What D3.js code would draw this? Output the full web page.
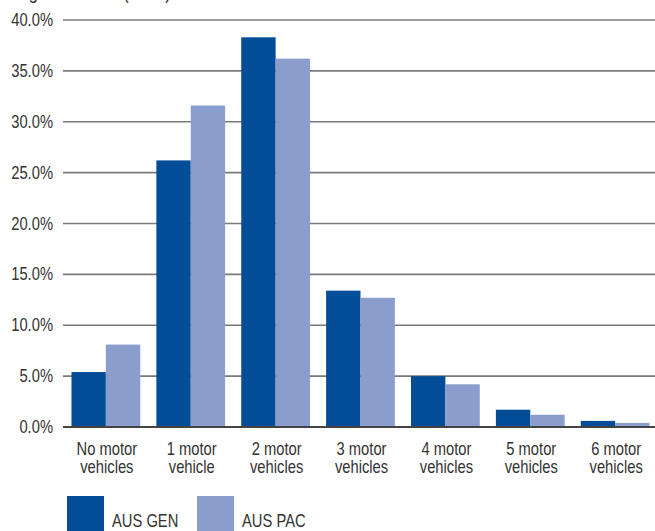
<!DOCTYPE html>
<html>
<head>
<meta charset="utf-8">
<script src="https://cdn.jsdelivr.net/npm/d3@7"></script>
<style>
  html, body { margin: 0; padding: 0; background: #fff; }
  svg text { font-family: "Liberation Sans Narrow", "Arial Narrow", "Liberation Sans", sans-serif; fill: #333; font-size: 18px; }
</style>
</head>
<body>
<div id="viz"></div>
<script>
// Share of households by number of motor vehicles
const CATEGORIES = [
  ["No motor", "vehicles"],
  ["1 motor", "vehicle"],
  ["2 motor", "vehicles"],
  ["3 motor", "vehicles"],
  ["4 motor", "vehicles"],
  ["5 motor", "vehicles"],
  ["6 motor", "vehicles"]
];
const SERIES = ["AUS GEN", "AUS PAC"];
const AUS_GEN = [5.4, 26.2, 38.3, 13.4, 5.0, 1.7, 0.6];
const AUS_PAC = [8.1, 31.6, 36.2, 12.7, 4.2, 1.2, 0.4];
const Y_TICKS = [0, 5, 10, 15, 20, 25, 30, 35, 40];

const COLORS = ["#034d98", "#8a9dcd"];
const W = 655, H = 531;
const margin = { top: 20, right: -3, bottom: 104, left: 63 };
const NARROW = 0.82; // no condensed face installed, squeeze the regular one

const svg = d3.select("#viz").append("svg")
  .attr("width", W)
  .attr("height", H);

// places a text and squeezes it horizontally
function narrowText(sel, px, py) {
  return sel.attr("transform", `translate(${px},${py}) scale(${NARROW},1)`);
}

// cropped title, only descenders are visible in the original
narrowText(svg.append("text"), 15, -1)
  .style("font-size", "20px")
  .text("Figure 9: Cars  (2016)");

const keys = CATEGORIES.map(d => d.join(" "));

const x = d3.scaleBand()
  .domain(keys)
  .range([margin.left, W - margin.right])
  .paddingInner(0.19)
  .paddingOuter(0.1);

const xInner = d3.scaleBand()
  .domain(SERIES)
  .range([0, x.bandwidth()]);

const y = d3.scaleLinear()
  .domain([0, 40])
  .range([H - margin.bottom, margin.top]);

// grid
svg.append("g")
  .selectAll("line")
  .data(Y_TICKS.filter(d => d > 0))
  .join("line")
  .attr("x1", margin.left)
  .attr("x2", W)
  .attr("y1", d => y(d))
  .attr("y2", d => y(d))
  .attr("stroke", "#7a7a7a")
  .attr("stroke-width", 1.6);

// y labels
svg.append("g")
  .selectAll("text")
  .data(Y_TICKS)
  .join("text")
  .attr("text-anchor", "end")
  .attr("transform", d => `translate(53,${y(d) + 6}) scale(${NARROW},1)`)
  .text(d => d.toFixed(1) + "%");

// bars
const rows = keys.map((k, i) => ({ key: k, values: [AUS_GEN[i], AUS_PAC[i]] }));

const groups = svg.append("g")
  .selectAll("g")
  .data(rows)
  .join("g")
  .attr("transform", d => `translate(${x(d.key)},0)`);

groups.selectAll("rect")
  .data(d => d.values.map((v, j) => ({ series: SERIES[j], value: v, j })))
  .join("rect")
  .attr("x", d => xInner(d.series))
  .attr("width", xInner.bandwidth())
  .attr("y", d => y(d.value))
  .attr("height", d => y(0) - y(d.value))
  .attr("fill", d => COLORS[d.j]);

// zero line over the bars
svg.append("line")
  .attr("x1", margin.left)
  .attr("x2", W)
  .attr("y1", y(0))
  .attr("y2", y(0))
  .attr("stroke", "#444")
  .attr("stroke-width", 2);

// category labels
const labels = svg.append("g")
  .selectAll("text")
  .data(CATEGORIES)
  .join("text")
  .attr("text-anchor", "middle")
  .attr("transform", (d, i) => `translate(${x(keys[i]) + x.bandwidth() / 2 + 1},455) scale(${NARROW},1)`);

labels.selectAll("tspan")
  .data(d => d)
  .join("tspan")
  .attr("x", 0)
  .attr("dy", (d, i) => i === 0 ? 0 : 18)
  .text(d => d);

// legend
const legendX = [67, 197];
const legend = svg.append("g")
  .selectAll("g")
  .data(SERIES)
  .join("g")
  .attr("transform", (d, i) => `translate(${legendX[i]},496)`);

legend.append("rect")
  .attr("width", 37)
  .attr("height", 37)
  .attr("fill", (d, i) => COLORS[i]);

legend.append("text")
  .attr("transform", `translate(45,31) scale(${NARROW},1)`)
  .text(d => d);
</script>
</body>
</html>
